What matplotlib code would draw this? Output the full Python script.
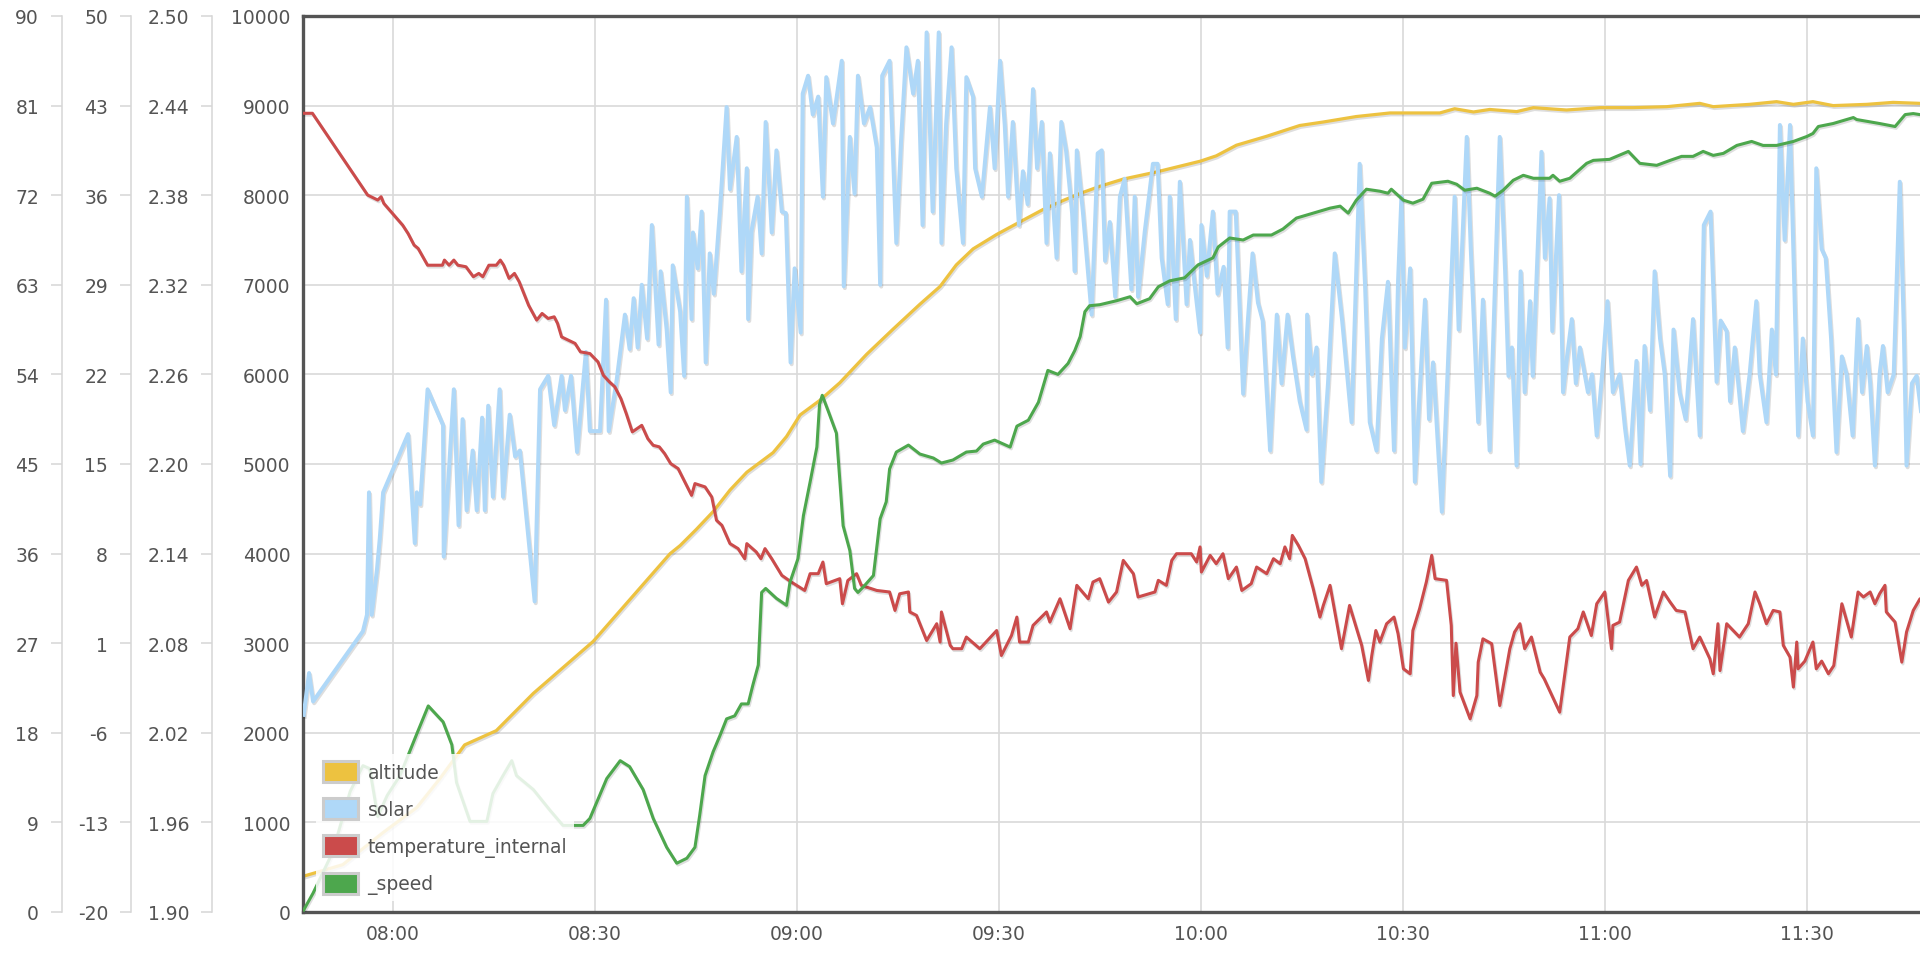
import matplotlib
matplotlib.use("Agg")
import matplotlib.pyplot as plt
import matplotlib.patheffects as pe
from matplotlib.patches import Patch

# Telemetry, time in minutes after midnight

altitude_t = [466.8, 472.6, 478.6, 483.6, 487.0, 490.7, 495.4, 500.9, 509.8, 521.2,
              522.7, 525.1, 527.6, 530.1, 532.6, 536.5, 538.5, 540.5, 543.4, 546.4,
              550.4, 554.3, 558.3, 561.3, 563.7, 566.2, 569.7, 573.1, 576.6, 579.6,
              582.1, 585.0, 588.5, 593.4, 599.9, 602.3, 605.3, 609.8, 614.7, 618.2,
              623.1, 628.1, 633.0, 635.5, 637.7, 640.5, 642.9, 646.9, 649.4, 654.3,
              659.3, 664.2, 669.2, 674.1, 676.1, 681.5, 685.5, 688.0, 690.9, 693.9,
              698.9, 702.8, 706.8, 707.5]
altitude_m = [400, 528, 887, 1166, 1486, 1865, 2024, 2440, 3021, 3999,
              4090, 4270, 4469, 4709, 4908, 5127, 5307, 5547, 5708, 5906,
              6225, 6504, 6783, 6982, 7222, 7401, 7562, 7700, 7841, 7942,
              8020, 8099, 8180, 8259, 8379, 8439, 8558, 8658, 8778, 8817,
              8878, 8918, 8918, 8918, 8965, 8929, 8957, 8933, 8977, 8951,
              8977, 8977, 8988, 9025, 8988, 9014, 9044, 9014, 9044, 9000,
              9014, 9036, 9025, 9025]

solar_t = [466.8, 467.6, 468.2, 475.6, 476.2, 476.5, 476.9, 477.7, 478.1, 478.6,
           482.3, 483.3, 483.6, 484.1, 485.2, 487.5, 487.6, 489.1, 489.8, 490.4,
           491.0, 491.9, 492.5, 493.3, 493.7, 494.2, 494.9, 495.9, 496.4, 497.4,
           498.2, 498.9, 501.1, 501.9, 503.1, 504.0, 505.1, 505.6, 506.5, 507.4,
           508.7, 509.3, 510.8, 511.7, 512.1, 513.3, 514.5, 515.2, 515.8, 516.4,
           517.0, 517.8, 518.5, 519.5, 519.8, 520.7, 521.3, 521.6, 522.7, 523.3,
           523.7, 524.4, 524.6, 525.3, 525.9, 526.5, 527.1, 527.7, 528.6, 529.6,
           530.1, 531.1, 531.8, 532.6, 532.8, 533.3, 534.2, 534.8, 535.4, 536.3,
           537.0, 537.8, 538.4, 539.1, 539.7, 540.6, 540.9, 541.7, 542.4, 543.2,
           543.9, 544.4, 545.4, 546.7, 547.0, 547.9, 548.6, 549.1, 550.0, 550.9,
           551.9, 552.4, 552.7, 553.8, 554.8, 555.5, 556.3, 557.3, 558.0, 558.7,
           559.3, 560.2, 561.1, 561.5, 562.2, 563.0, 563.7, 564.7, 565.2, 566.2,
           566.5, 567.5, 568.7, 569.4, 570.2, 570.9, 571.4, 572.1, 573.0, 573.6,
           574.3, 575.1, 575.7, 576.4, 577.1, 577.6, 578.6, 579.3, 580.0, 580.9,
           581.3, 581.6, 582.5, 583.8, 584.7, 585.3, 585.8, 586.5, 587.3, 588.0,
           588.7, 589.7, 590.2, 590.7, 591.7, 592.9, 593.6, 594.2, 595.1, 595.4,
           596.3, 596.9, 597.9, 598.4, 599.1, 599.9, 600.1, 600.9, 601.8, 602.5,
           603.4, 604.0, 604.3, 605.2, 606.3, 607.0, 607.7, 608.5, 609.2, 610.3,
           611.3, 612.0, 612.9, 613.7, 614.7, 615.7, 615.8, 616.5, 617.2, 617.9,
           618.9, 619.9, 621.0, 622.4, 623.6, 624.4, 625.1, 626.1, 626.9, 627.8,
           628.7, 629.3, 629.8, 630.3, 631.1, 631.8, 632.5, 633.3, 633.9, 634.5,
           635.8, 636.7, 637.7, 638.3, 639.5, 640.1, 641.2, 641.9, 642.9, 644.4,
           645.2, 645.7, 646.2, 646.9, 647.5, 648.1, 648.9, 649.3, 650.6, 651.1,
           651.8, 652.2, 653.2, 653.8, 654.4, 655.1, 655.7, 656.3, 657.5, 658.1,
           658.8, 659.6, 660.4, 661.2, 662.2, 663.0, 663.7, 664.7, 665.3, 665.9,
           666.7, 667.4, 668.2, 668.9, 669.7, 670.2, 671.1, 672.0, 673.1, 674.1,
           674.7, 675.7, 676.6, 677.2, 678.1, 678.6, 679.3, 680.5, 681.5, 682.5,
           683.0, 684.0, 684.8, 685.4, 686.0, 686.7, 687.5, 688.1, 688.7, 689.4,
           690.1, 690.9, 691.4, 692.2, 692.8, 693.6, 694.4, 695.2, 695.9, 696.8,
           697.6, 698.2, 698.9, 699.4, 700.1, 700.8, 701.3, 702.0, 702.9, 703.8,
           704.4, 704.8, 705.6, 706.3, 707.1]
solar_v = [2.032, 2.060, 2.041, 2.088, 2.099, 2.181, 2.099, 2.130, 2.150, 2.181,
           2.220, 2.147, 2.181, 2.173, 2.250, 2.226, 2.138, 2.250, 2.159, 2.230,
           2.169, 2.209, 2.169, 2.231, 2.169, 2.239, 2.178, 2.250, 2.178, 2.233,
           2.205, 2.209, 2.108, 2.250, 2.259, 2.226, 2.259, 2.236, 2.259, 2.208,
           2.275, 2.222, 2.222, 2.310, 2.222, 2.257, 2.300, 2.277, 2.311, 2.278,
           2.320, 2.284, 2.360, 2.280, 2.329, 2.290, 2.248, 2.333, 2.302, 2.259,
           2.379, 2.297, 2.355, 2.331, 2.369, 2.268, 2.341, 2.314, 2.369, 2.439,
           2.384, 2.419, 2.329, 2.398, 2.297, 2.356, 2.379, 2.341, 2.429, 2.355,
           2.410, 2.369, 2.368, 2.268, 2.331, 2.288, 2.448, 2.460, 2.434, 2.446,
           2.379, 2.459, 2.428, 2.470, 2.319, 2.419, 2.381, 2.460, 2.428, 2.439,
           2.412, 2.320, 2.460, 2.470, 2.348, 2.416, 2.479, 2.448, 2.470, 2.360,
           2.489, 2.369, 2.489, 2.348, 2.428, 2.479, 2.398, 2.348, 2.459, 2.446,
           2.398, 2.379, 2.439, 2.398, 2.470, 2.427, 2.379, 2.429, 2.360, 2.396,
           2.374, 2.451, 2.398, 2.429, 2.348, 2.408, 2.338, 2.429, 2.410, 2.368,
           2.329, 2.410, 2.369, 2.300, 2.408, 2.410, 2.336, 2.362, 2.312, 2.379,
           2.391, 2.317, 2.379, 2.312, 2.356, 2.401, 2.401, 2.338, 2.307, 2.379,
           2.297, 2.389, 2.307, 2.350, 2.320, 2.288, 2.360, 2.326, 2.369, 2.314,
           2.332, 2.278, 2.369, 2.369, 2.247, 2.296, 2.341, 2.308, 2.296, 2.209,
           2.300, 2.254, 2.300, 2.272, 2.242, 2.223, 2.300, 2.260, 2.278, 2.188,
           2.254, 2.341, 2.296, 2.228, 2.401, 2.320, 2.228, 2.209, 2.284, 2.322,
           2.209, 2.322, 2.379, 2.278, 2.331, 2.188, 2.248, 2.310, 2.230, 2.268,
           2.168, 2.266, 2.379, 2.290, 2.419, 2.344, 2.228, 2.310, 2.209, 2.419,
           2.329, 2.259, 2.278, 2.199, 2.329, 2.248, 2.309, 2.259, 2.409, 2.338,
           2.378, 2.289, 2.380, 2.248, 2.272, 2.297, 2.254, 2.278, 2.248, 2.260,
           2.219, 2.260, 2.309, 2.248, 2.260, 2.224, 2.199, 2.269, 2.200, 2.279,
           2.236, 2.329, 2.284, 2.260, 2.192, 2.290, 2.248, 2.230, 2.297, 2.219,
           2.360, 2.369, 2.255, 2.296, 2.289, 2.242, 2.278, 2.222, 2.260, 2.309,
           2.260, 2.228, 2.290, 2.260, 2.427, 2.350, 2.427, 2.326, 2.219, 2.284,
           2.242, 2.219, 2.398, 2.344, 2.338, 2.284, 2.208, 2.272, 2.260, 2.219,
           2.297, 2.248, 2.279, 2.254, 2.199, 2.260, 2.279, 2.248, 2.260, 2.389,
           2.290, 2.199, 2.254, 2.259, 2.230]

temp_t = [466.8, 468.1, 476.3, 477.8, 478.3, 478.7, 481.5, 482.3, 483.2, 483.8,
          485.2, 487.4, 487.7, 488.4, 489.1, 489.7, 490.9, 492.0, 492.8, 493.4,
          494.3, 495.4, 496.0, 496.5, 497.3, 498.1, 498.8, 500.2, 501.4, 502.2,
          503.1, 504.0, 504.5, 505.1, 505.6, 507.1, 507.9, 509.3, 510.5, 511.3,
          512.2, 513.0, 513.9, 514.7, 515.6, 517.0, 517.9, 518.7, 519.6, 520.4,
          521.3, 522.4, 524.4, 524.9, 526.4, 527.4, 528.1, 528.9, 530.1, 531.3,
          532.3, 532.6, 534.0, 534.7, 535.3, 536.3, 537.8, 539.2, 541.2, 542.0,
          543.2, 543.9, 544.4, 545.7, 546.4, 546.8, 547.6, 548.9, 549.6, 551.9,
          553.8, 554.6, 555.3, 556.6, 556.8, 557.8, 559.3, 560.8, 561.3, 561.5,
          562.8, 563.2, 564.5, 565.2, 567.2, 569.7, 570.4, 571.9, 572.7, 573.1,
          574.4, 575.1, 576.1, 577.1, 577.6, 579.1, 580.6, 581.6, 583.3, 584.0,
          585.0, 586.3, 587.5, 588.5, 590.0, 590.7, 593.2, 593.7, 594.9, 595.7,
          596.4, 598.6, 599.4, 599.9, 600.1, 601.4, 602.3, 603.3, 604.1, 605.3,
          606.1, 607.5, 608.3, 609.8, 610.8, 611.8, 612.5, 613.2, 613.6, 614.5,
          615.5, 616.7, 617.7, 618.2, 619.2, 620.9, 621.4, 622.1, 623.9, 624.9,
          625.4, 626.0, 626.6, 627.6, 628.7, 629.3, 630.1, 631.1, 631.5, 632.5,
          633.5, 634.3, 634.8, 636.5, 637.2, 637.5, 637.9, 638.5, 640.0, 641.0,
          641.2, 641.9, 643.2, 644.4, 645.9, 646.6, 647.4, 648.1, 649.1, 650.4,
          651.0, 653.3, 654.8, 656.0, 656.8, 658.0, 658.8, 660.0, 661.0, 661.2,
          662.2, 663.5, 664.7, 665.5, 666.2, 667.4, 668.7, 669.7, 670.6, 671.9,
          673.1, 674.1, 675.6, 676.1, 676.8, 677.1, 678.1, 680.0, 681.3, 682.3,
          683.0, 684.0, 685.0, 686.0, 686.5, 687.5, 688.0, 688.5, 688.7, 689.7,
          690.9, 691.4, 692.2, 693.2, 694.0, 695.2, 696.6, 697.6, 698.4, 699.4,
          700.1, 700.8, 701.6, 701.8, 703.1, 704.1, 704.8, 705.8, 706.8, 707.5]
temp_c = [42.40, 42.40, 36.01, 35.62, 35.88, 35.36, 33.66, 33.01, 32.10, 31.84,
          30.53, 30.53, 30.93, 30.53, 30.93, 30.53, 30.41, 29.63, 29.89, 29.63,
          30.53, 30.53, 30.93, 30.53, 29.50, 29.89, 29.24, 27.40, 26.24, 26.76,
          26.37, 26.50, 25.98, 24.93, 24.80, 24.42, 23.76, 23.63, 22.98, 21.93,
          21.42, 21.03, 20.11, 18.94, 17.51, 18.02, 16.98, 16.46, 16.34, 15.81,
          15.03, 14.64, 12.55, 13.47, 13.21, 12.42, 10.60, 10.21, 8.78, 8.39,
          7.60, 8.78, 8.13, 7.60, 8.39, 7.60, 6.30, 5.78, 5.12, 6.43,
          6.43, 7.34, 5.65, 5.90, 6.04, 4.08, 5.90, 6.43, 5.52, 5.12,
          5.00, 3.56, 4.86, 5.00, 3.44, 3.17, 1.21, 2.52, 1.09, 3.44,
          0.83, 0.57, 0.57, 1.48, 0.57, 1.99, 0.04, 1.60, 3.04, 1.09,
          1.09, 2.39, 2.91, 3.44, 2.65, 4.47, 2.13, 5.52, 4.47, 5.78,
          6.04, 4.21, 5.00, 7.47, 6.43, 4.61, 5.00, 5.91, 5.52, 7.47,
          7.99, 7.99, 7.34, 8.52, 6.56, 7.86, 7.21, 7.99, 6.04, 6.95,
          5.12, 5.65, 6.95, 6.43, 7.60, 7.21, 8.52, 7.60, 9.42, 8.64,
          7.60, 5.26, 3.04, 3.95, 5.52, 0.57, 1.99, 3.95, 0.83, -1.91,
          0.04, 1.99, 1.09, 2.52, 3.04, 1.74, -1.00, -1.39, 1.99, 3.70,
          5.78, 7.86, 6.04, 5.91, 2.39, -3.09, 1.00, -2.82, -4.91, -3.09,
          -0.48, 1.34, 0.96, -3.87, 0.57, 1.87, 2.52, 0.57, 1.48, -1.26,
          -1.78, -4.39, 1.48, 2.13, 3.44, 1.60, 4.08, 5.00, 0.57, 2.39,
          2.65, 5.91, 6.95, 5.52, 5.90, 3.04, 5.00, 4.21, 3.56, 3.44,
          0.57, 1.48, -0.22, -1.39, 2.52, -1.14, 2.52, 1.48, 2.52, 5.00,
          4.08, 2.52, 3.56, 3.44, 0.83, -0.09, -2.43, 1.09, -1.00, -0.40,
          1.09, -1.00, -0.40, -1.39, -0.75, 4.08, 1.48, 5.00, 4.61, 5.00,
          4.08, 4.86, 5.52, 3.44, 2.65, -0.48, 1.87, 3.56, 4.47, 3.80]

speed_t = [466.8, 468.2, 471.1, 473.7, 475.6, 476.6, 477.8, 479.2, 481.1, 483.6,
           485.3, 487.5, 488.8, 489.5, 491.5, 494.0, 494.9, 496.4, 497.7, 498.4,
           500.9, 503.4, 505.3, 508.3, 509.3, 511.8, 513.8, 515.2, 517.2, 518.7,
           520.7, 522.2, 523.7, 524.9, 525.6, 526.4, 527.6, 528.6, 529.6, 530.8,
           531.8, 532.8, 533.5, 534.3, 534.8, 535.4, 537.0, 538.5, 539.0, 540.2,
           541.0, 542.0, 543.0, 543.4, 543.8, 544.7, 545.9, 546.9, 547.9, 548.6,
           549.1, 550.1, 551.4, 552.4, 553.3, 553.8, 554.8, 556.6, 558.3, 560.3,
           561.5, 563.2, 565.2, 566.7, 567.7, 569.4, 570.7, 571.7, 572.7, 574.4,
           575.9, 576.6, 577.3, 578.8, 580.3, 581.3, 582.1, 582.8, 583.5, 585.0,
           587.5, 589.5, 590.5, 592.4, 593.7, 595.4, 597.6, 599.6, 601.8, 602.6,
           604.3, 606.3, 607.8, 610.5, 612.2, 614.2, 616.7, 619.2, 620.7, 621.9,
           623.1, 624.6, 626.6, 627.8, 628.3, 630.1, 631.5, 633.0, 634.3, 636.7,
           638.0, 639.2, 641.0, 642.9, 643.7, 644.9, 646.4, 647.9, 649.4, 651.8,
           652.3, 653.3, 654.8, 657.3, 658.3, 660.7, 663.5, 665.2, 667.7, 669.7,
           671.4, 673.1, 674.6, 676.1, 677.6, 679.6, 681.8, 683.5, 685.5, 688.0,
           690.0, 690.9, 691.7, 693.9, 696.9, 697.4, 700.8, 703.1, 704.6, 705.8,
           706.8, 707.5]
speed_kmh = [0.2, 1.9, 6.0, 12.1, 14.7, 14.4, 9.6, 11.7, 13.7, 17.9,
             20.7, 19.1, 16.8, 13.0, 9.1, 9.1, 11.9, 13.7, 15.2, 13.7,
             12.3, 10.2, 8.7, 8.7, 9.4, 13.4, 15.2, 14.6, 12.3, 9.4,
             6.5, 4.9, 5.4, 6.5, 9.7, 13.7, 16.1, 17.7, 19.4, 19.7,
             20.9, 20.9, 22.8, 24.8, 32.1, 32.5, 31.5, 30.8, 33.1, 35.5,
             39.8, 43.2, 46.7, 51.0, 51.9, 50.3, 48.1, 38.8, 36.3, 32.5,
             32.1, 32.8, 33.8, 39.5, 41.2, 44.5, 46.2, 46.9, 46.0, 45.6,
             45.1, 45.4, 46.2, 46.3, 47.0, 47.4, 47.0, 46.7, 48.8, 49.4,
             51.2, 52.8, 54.4, 54.0, 55.1, 56.4, 57.8, 60.3, 60.9, 61.0,
             61.4, 61.8, 61.1, 61.6, 62.8, 63.4, 63.7, 65.0, 65.7, 66.8,
             67.7, 67.5, 68.0, 68.0, 68.6, 69.7, 70.2, 70.7, 70.9, 70.2,
             71.5, 72.6, 72.4, 72.2, 72.6, 71.5, 71.2, 71.6, 73.2, 73.4,
             73.1, 72.5, 72.7, 72.2, 71.9, 72.5, 73.5, 74.0, 73.7, 73.7,
             74.0, 73.4, 73.7, 75.2, 75.5, 75.6, 76.4, 75.2, 75.0, 75.5,
             75.9, 75.9, 76.4, 76.0, 76.2, 77.0, 77.4, 77.0, 77.0, 77.4,
             77.9, 78.2, 78.9, 79.2, 79.8, 79.6, 79.2, 78.9, 80.1, 80.2,
             80.1, 80.0]

time_ticks = [480, 510, 540, 570, 600, 630, 660, 690]
time_labels = ["08:00", "08:30", "09:00", "09:30", "10:00", "10:30", "11:00", "11:30"]
altitude_ticks = [0, 1000, 2000, 3000, 4000, 5000, 6000, 7000, 8000, 9000, 10000]
solar_ticks = [1.90, 1.96, 2.02, 2.08, 2.14, 2.20, 2.26, 2.32, 2.38, 2.44, 2.50]
temp_ticks = [-20, -13, -6, 1, 8, 15, 22, 29, 36, 43, 50]
speed_ticks = [0, 9, 18, 27, 36, 45, 54, 63, 72, 81, 90]

series_names = ["altitude", "solar", "temperature_internal", "_speed"]
series_colors = ["#edc240", "#afd8f8", "#cb4b4b", "#4da74d"]

TEXT = "#545454"
GRID = "#d9d9d9"
SIDE = "#d6d6d6"
FS = 13.5

W, H = 1920, 954
fig = plt.figure(figsize=(W / 100, H / 100), dpi=100)
fig.patch.set_facecolor("white")

# plot box: left edge at x=303, top at y=17, bottom at y=913, runs off the right edge
ax = fig.add_axes([303 / W, (H - 913) / H, (W - 303) / W, 896 / H])
ax.set_xlim(466.7, 706.8)
ax.set_ylim(0, 10000)
ax.set_xticks(time_ticks)
ax.set_xticklabels(time_labels)
ax.set_yticks(altitude_ticks)
ax.set_yticklabels([str(v) for v in altitude_ticks])
ax.tick_params(axis="both", length=0, pad=9, labelsize=FS, labelcolor=TEXT)
ax.grid(True, color=GRID, linewidth=1.2)
ax.set_axisbelow(True)
for name in ("top", "left", "bottom"):
    ax.spines[name].set_color(TEXT)
    ax.spines[name].set_linewidth(2.4)
ax.spines["right"].set_visible(False)


def side_axis(pos, lo, hi, ticks, fmt):
    t = ax.twinx()
    t.set_ylim(lo, hi)
    for name in ("top", "right", "bottom"):
        t.spines[name].set_visible(False)
    t.spines["left"].set_visible(True)
    t.spines["left"].set_position(("axes", pos))
    t.spines["left"].set_color(SIDE)
    t.spines["left"].set_linewidth(1.1)
    t.yaxis.set_ticks_position("left")
    t.yaxis.set_label_position("left")
    t.set_yticks(ticks)
    t.set_yticklabels([fmt.format(v) for v in ticks])
    t.tick_params(axis="y", length=8, width=1.1, color=SIDE, pad=8.5,
                  labelsize=FS, labelcolor=TEXT)
    return t


ax_solar = side_axis((212 - 303) / (W - 303), 1.90, 2.50, solar_ticks, "{:.2f}")
ax_temp = side_axis((131 - 303) / (W - 303), -20, 50, temp_ticks, "{:d}")
ax_speed = side_axis((62 - 303) / (W - 303), 0, 90, speed_ticks, "{:d}")

shadow = [pe.SimpleLineShadow(offset=(0.8, -1.3), shadow_color="black", alpha=0.13),
          pe.Normal()]

ax.plot(altitude_t, altitude_m, color=series_colors[0], lw=2.3, path_effects=shadow)
ax_solar.plot(solar_t, solar_v, color=series_colors[1], lw=2.9, path_effects=shadow)
ax_temp.plot(temp_t, temp_c, color=series_colors[2], lw=2.2, path_effects=shadow)
ax_speed.plot(speed_t, speed_kmh, color=series_colors[3], lw=2.2, path_effects=shadow)

handles = [Patch(facecolor=c, edgecolor="#cccccc", linewidth=2.2, label=n)
           for n, c in zip(series_names, series_colors)]
fig.legend(handles=handles, loc="lower left",
           bbox_to_anchor=(316 / W, (H - 902) / H), borderaxespad=0,
           frameon=True, fancybox=False, facecolor="white", edgecolor="none",
           framealpha=0.85, fontsize=FS, labelcolor=TEXT,
           handlelength=1.9, handleheight=1.35, handletextpad=0.5,
           labelspacing=0.85, borderpad=0.35)

fig.savefig("out.png", dpi=100, facecolor="white")
